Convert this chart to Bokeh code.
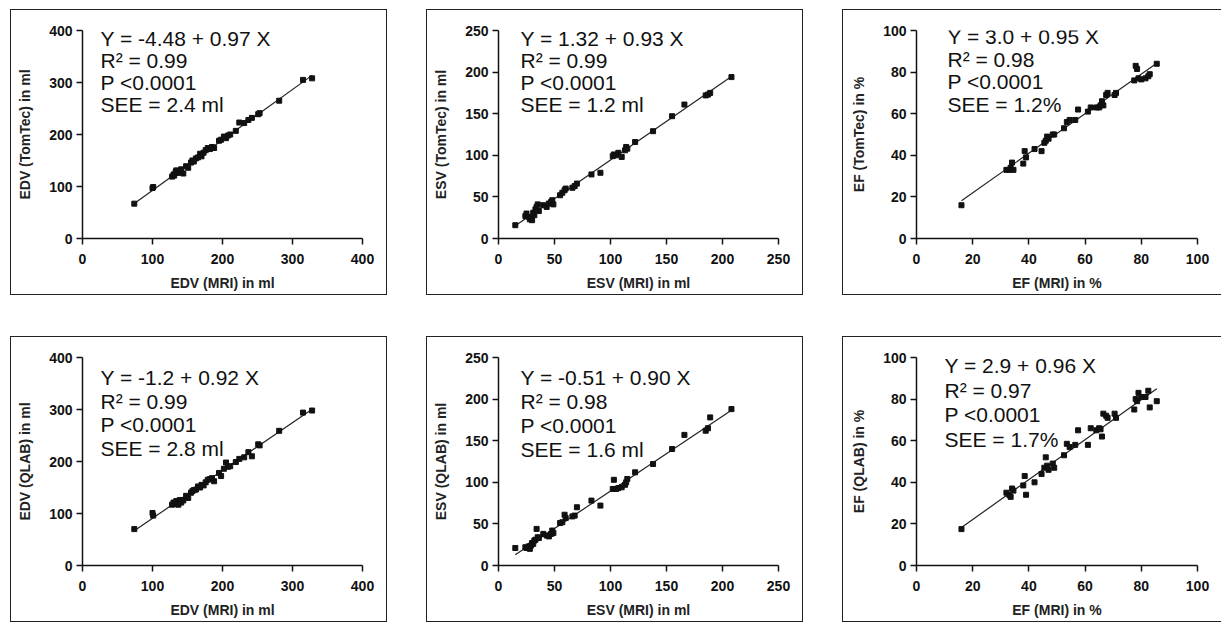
from bokeh.plotting import figure
from bokeh.layouts import row, column
from bokeh.models import Range1d, FixedTicker, Label
from bokeh.embed import file_html
from bokeh.resources import INLINE

# ---------------- data ----------------
edv_mri = [74, 100, 101, 128, 130, 131, 133, 134, 135, 137, 139, 141, 144, 148, 151,
           155, 157, 159, 162, 165, 168, 170, 173, 176, 179, 182, 185, 188, 195, 198,
           202, 205, 208, 211, 219, 224, 231, 237, 242, 251, 253, 281, 315, 328]
edv_tomtec = [67, 97, 99, 119, 123, 121, 128, 131, 126, 130, 127, 133, 125, 139, 136,
              146, 150, 148, 154, 156, 163, 158, 165, 170, 174, 172, 176, 174, 188, 190,
              196, 193, 198, 200, 207, 223, 222, 228, 232, 239, 241, 265, 305, 308]
edv_qlab = [70, 101, 96, 117, 121, 119, 118, 124, 122, 117, 126, 121, 125, 134, 130,
            140, 143, 145, 146, 152, 150, 155, 154, 160, 165, 166, 168, 162, 178, 172,
            186, 198, 190, 191, 199, 205, 208, 218, 210, 233, 231, 259, 294, 298]

esv_mri = [15, 24, 25, 27, 28, 29, 30, 31, 32, 33, 34, 35, 36, 40, 43, 45, 47, 48, 49,
           55, 57, 59, 60, 66, 68, 70, 83, 91, 102, 103, 105, 107, 110, 113, 114, 115,
           122, 138, 155, 166, 185, 187, 189, 208]
esv_tomtec = [16, 27, 30, 26, 23, 24, 22, 31, 28, 35, 38, 41, 33, 40, 38, 42, 44, 46, 41,
              52, 55, 58, 60, 61, 63, 66, 77, 79, 99, 101, 100, 103, 98, 106, 110, 108,
              116, 129, 147, 161, 172, 173, 175, 194]
esv_qlab = [21, 22, 21, 23, 20, 24, 27, 26, 30, 31, 44, 34, 33, 38, 36, 35, 38, 42, 39,
            51, 52, 61, 57, 59, 60, 70, 78, 72, 92, 103, 92, 93, 94, 97, 100, 104,
            112, 122, 140, 157, 162, 165, 178, 188]

ef_mri = [16, 32, 33, 33.5, 34, 34.5, 38, 38.5, 39, 42, 44.5, 45.5, 46, 46.5, 47, 48.5,
          49, 52.5, 53.5, 54.5, 56.5, 57.5, 61, 62, 64, 65, 65.5, 66, 66.5, 67.5, 68,
          70.5, 71, 77.5, 78, 78.5, 79, 80, 81.5, 82.5, 83, 85.5]
ef_tomtec = [16, 33, 33, 34, 36.5, 33, 36, 42, 39, 43, 42, 46, 47, 49, 48, 50,
             50, 53, 56, 57, 57, 62, 61, 63, 63, 63, 64, 66, 64, 69, 70,
             69, 70, 76, 83, 81.5, 77, 76.5, 77, 78, 79, 84]
ef_qlab = [17.5, 35, 34, 33, 37, 36, 38.5, 43, 34, 40, 44, 47, 52, 48, 46, 49,
           47, 53, 58.5, 57, 58, 65, 58, 66, 65, 66, 65.5, 62, 73, 72, 71,
           73, 71, 75, 80, 79, 83, 81, 81, 84, 76, 79]

# regression coefficients printed on the chart
intercepts = [-4.48, 1.32, 3.0, -1.2, -0.51, 2.9]
slopes = [0.97, 0.93, 0.95, 0.92, 0.90, 0.96]
r2_values = ["0.99", "0.99", "0.98", "0.99", "0.98", "0.97"]
see_values = ["2.4 ml", "1.2 ml", "1.2%", "2.8 ml", "1.6 ml", "1.7%"]

x_labels = ["EDV (MRI) in ml", "ESV (MRI) in ml", "EF (MRI) in %"] * 2
y_labels = ["EDV (TomTec) in ml", "ESV (TomTec) in ml", "EF (TomTec) in %",
            "EDV (QLAB) in ml", "ESV (QLAB) in ml", "EF (QLAB) in %"]
axis_ticks = [[0, 100, 200, 300, 400], [0, 50, 100, 150, 200, 250], [0, 20, 40, 60, 80, 100]]

xs_all = [edv_mri, esv_mri, ef_mri, edv_mri, esv_mri, ef_mri]
ys_all = [edv_tomtec, esv_tomtec, ef_tomtec, edv_qlab, esv_qlab, ef_qlab]

# ---------------- layout / style ----------------
W, H = 377, 286
W_LAST = 379
MB_L, MB_R, MB_T, MB_B = 71, 26, 20, 58
FONT = "Liberation Sans"
# text block placement per panel: (x offset into frame, first baseline below frame top, line spacing)
text_pos = [(18, 8, 22), (22, 8, 22), (31, 6, 22.5),
            (18, 20, 23.7), (22, 20, 24), (28, 8, 24.5)]


def fmt_coef(v):
    return ("-" if v < 0 else "") + (f"{abs(v):.2f}" if abs(v) * 100 % 10 else f"{abs(v):.1f}")


def make_panel(i):
    ticks = axis_ticks[i % 3]
    last = (i % 3 == 2)
    styles = {"border": "1.5px solid #222", "box-sizing": "border-box"}
    if last:
        styles["border-right"] = "none"
    p = figure(width=W_LAST if last else W, height=H, output_backend="svg", toolbar_location=None,
               x_range=Range1d(ticks[0], ticks[-1]), y_range=Range1d(ticks[0], ticks[-1]),
               min_border_left=MB_L + (2 if last else 0), min_border_right=MB_R - (1 if last else 0),
               min_border_top=MB_T, min_border_bottom=MB_B,
               background_fill_color="white", border_fill_color="white",
               outline_line_color=None, styles=styles)
    p.xgrid.visible = False
    p.ygrid.visible = False
    for ax, lab in ((p.xaxis[0], x_labels[i]), (p.yaxis[0], y_labels[i])):
        ax.ticker = FixedTicker(ticks=ticks)
        ax.axis_label = lab
        ax.axis_line_color = "#111"
        ax.axis_line_width = 1.5
        ax.major_tick_line_color = "#111"
        ax.major_tick_line_width = 1.5
        ax.major_tick_out = 6
        ax.major_tick_in = 0
        ax.minor_tick_line_color = None
        ax.major_label_text_font = FONT
        ax.major_label_text_font_style = "bold"
        ax.major_label_text_font_size = "14px"
        ax.major_label_text_color = "#111"
        ax.axis_label_text_font = FONT
        ax.axis_label_text_font_style = "bold"
        ax.axis_label_text_font_size = "14px"
        ax.axis_label_text_color = "#222"
    p.xaxis[0].major_label_standoff = 9
    p.xaxis[0].axis_label_standoff = 8
    p.yaxis[0].major_label_standoff = 4
    p.yaxis[0].axis_label_standoff = 13

    x, y = xs_all[i], ys_all[i]
    a, b = intercepts[i], slopes[i]
    lx = [min(x), max(x)]
    p.line(lx, [a + b * v for v in lx], line_color="#222", line_width=1.2)
    p.scatter(x, y, marker="square", size=5, fill_color="#111", line_color="#111")

    lines = [f"Y = {fmt_coef(a)} + {b:.2f} X", f"R\u00b2 = {r2_values[i]}",
             "P <0.0001", f"SEE = {see_values[i]}"]
    frame_h = H - MB_T - MB_B
    xo, first, sp = text_pos[i]
    for k, t in enumerate(lines):
        p.add_layout(Label(x=xo, y=frame_h - first - k * sp, x_units="screen", y_units="screen",
                           text=t, text_font=FONT, text_font_size="21px",
                           text_color="#111", text_baseline="alphabetic"))
    return p


panels = [make_panel(i) for i in range(6)]
layout = column(row(*panels[:3], spacing=39), row(*panels[3:], spacing=39),
                spacing=41, margin=(9, 0, 0, 10))

open("out.html", "w").write(file_html(layout, INLINE))
